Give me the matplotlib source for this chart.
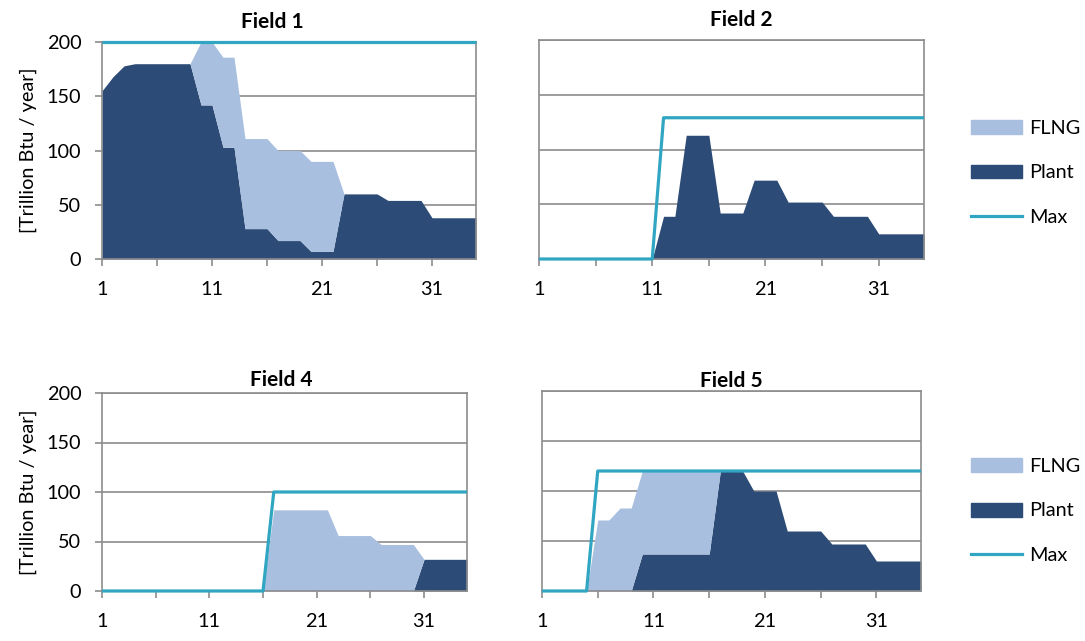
"""
Field production charts: plant vs FLNG with max capacity
"""
import matplotlib
matplotlib.use("Agg")
import matplotlib.pyplot as plt
from matplotlib.patches import Patch
from matplotlib.lines import Line2D

# years 1..35
years = list(range(1, 36))

# field 1
field1_plant = [155, 168, 178, 180, 180, 180, 180, 180, 180, 142,
                142, 103, 103, 28, 28, 28, 17, 17, 17, 7,
                7, 7, 60, 60, 60, 60, 54, 54, 54, 54,
                38, 38, 38, 38, 38]
field1_flng = [0, 0, 0, 0, 0, 0, 0, 0, 0, 58,
               58, 83, 83, 83, 83, 83, 83, 83, 83, 83,
               83, 83, 0, 0, 0, 0, 0, 0, 0, 0,
               0, 0, 0, 0, 0]
field1_max = [200] * 35

# field 2
field2_plant = [0, 0, 0, 0, 0, 0, 0, 0, 0, 0,
                0, 39, 39, 113, 113, 113, 42, 42, 42, 72,
                72, 72, 52, 52, 52, 52, 39, 39, 39, 39,
                23, 23, 23, 23, 23]
field2_flng = [0] * 35
field2_max = [0, 0, 0, 0, 0, 0, 0, 0, 0, 0,
              0, 129, 129, 129, 129, 129, 129, 129, 129, 129,
              129, 129, 129, 129, 129, 129, 129, 129, 129, 129,
              129, 129, 129, 129, 129]

# field 4
field4_plant = [0, 0, 0, 0, 0, 0, 0, 0, 0, 0,
                0, 0, 0, 0, 0, 0, 0, 0, 0, 0,
                0, 0, 0, 0, 0, 0, 0, 0, 0, 0,
                32, 32, 32, 32, 32]
field4_flng = [0, 0, 0, 0, 0, 0, 0, 0, 0, 0,
               0, 0, 0, 0, 0, 0, 82, 82, 82, 82,
               82, 82, 56, 56, 56, 56, 47, 47, 47, 47,
               0, 0, 0, 0, 0]
field4_max = [0, 0, 0, 0, 0, 0, 0, 0, 0, 0,
              0, 0, 0, 0, 0, 0, 100, 100, 100, 100,
              100, 100, 100, 100, 100, 100, 100, 100, 100, 100,
              100, 100, 100, 100, 100]

# field 5
field5_plant = [0, 0, 0, 0, 0, 0, 0, 0, 0, 37,
                37, 37, 37, 37, 37, 37, 120, 120, 120, 100,
                100, 100, 60, 60, 60, 60, 47, 47, 47, 47,
                30, 30, 30, 30, 30]
field5_flng = [0, 0, 0, 0, 0, 71, 71, 83, 83, 83,
               83, 83, 83, 83, 83, 83, 0, 0, 0, 0,
               0, 0, 0, 0, 0, 0, 0, 0, 0, 0,
               0, 0, 0, 0, 0]
field5_max = [0, 0, 0, 0, 0, 120, 120, 120, 120, 120,
              120, 120, 120, 120, 120, 120, 120, 120, 120, 120,
              120, 120, 120, 120, 120, 120, 120, 120, 120, 120,
              120, 120, 120, 120, 120]

x_ticks = [1, 11, 21, 31]
y_ticks = [0, 50, 100, 150, 200]

# colours
c_flng = "#a9bfdf"
c_plant = "#2c4b76"
c_max = "#31a6c2"
c_grid = "#8c8c8c"

fs = 14.3
plt.rcParams["font.family"] = ["Lato", "DejaVu Sans"]
plt.rcParams["font.size"] = fs

W, H = 1085, 641
fig = plt.figure(figsize=(W / 100, H / 100), dpi=100)


def px_axes(left, top, right, bottom):
    """add axes from pixel box"""
    return fig.add_axes([left / W, 1 - bottom / H,
                         (right - left) / W, (bottom - top) / H])


def draw_field(ax, plant, flng, cap, title, title_xy, left_labels):
    total = [p + f for p, f in zip(plant, flng)]
    ax.fill_between(years, 0, plant, color=c_plant, lw=0, zorder=2)
    ax.fill_between(years, plant, total, color=c_flng, lw=0, zorder=2)
    ax.plot(years, cap, color=c_max, lw=2.3, zorder=4, clip_on=False,
            solid_capstyle="butt")

    ax.set_xlim(1, 35)
    ax.set_ylim(0, 200)
    ax.set_yticks(y_ticks)
    ax.yaxis.grid(True, color=c_grid, lw=1.2, zorder=0)
    ax.set_axisbelow(True)
    ax.set_xticks(x_ticks)
    ax.set_xticks([6, 16, 26], minor=True)
    ax.tick_params(axis="x", which="both", length=5, width=1.2,
                   color=c_grid, pad=11)
    if left_labels:
        ax.tick_params(axis="y", length=5, width=1.2, color=c_grid, pad=10)
        ax.set_ylabel("[Trillion Btu / year]", labelpad=7)
    else:
        ax.tick_params(axis="y", length=0, labelleft=False)
    for s in ax.spines.values():
        s.set_color(c_grid)
        s.set_linewidth(1.2)
        s.set_zorder(3)

    fig.text(title_xy[0] / W, 1 - title_xy[1] / H, title,
             ha="center", va="baseline", fontweight="bold", fontsize=15)


ax1 = px_axes(102, 42, 476, 259)
draw_field(ax1, field1_plant, field1_flng, field1_max, "Field 1",
           (272, 28), True)

ax2 = px_axes(539, 40, 924, 259)
draw_field(ax2, field2_plant, field2_flng, field2_max, "Field 2",
           (741, 26), False)

ax4 = px_axes(102, 393, 467, 591)
draw_field(ax4, field4_plant, field4_flng, field4_max, "Field 4",
           (281, 386), True)

ax5 = px_axes(542, 391, 921, 591)
draw_field(ax5, field5_plant, field5_flng, field5_max, "Field 5",
           (731, 387), False)

# legends on the right side
handles = [Patch(color=c_flng, label="FLNG"),
           Patch(color=c_plant, label="Plant"),
           Line2D([], [], color=c_max, lw=2.3, label="Max")]
for cy in (173, 511):
    fig.legend(handles=handles, loc="center left",
               bbox_to_anchor=(971 / W, 1 - cy / H), frameon=False,
               borderpad=0, borderaxespad=0, handlelength=2.55,
               handleheight=0.7, handletextpad=0.4, labelspacing=1.4,
               fontsize=fs)

fig.savefig("out.png", dpi=100)
